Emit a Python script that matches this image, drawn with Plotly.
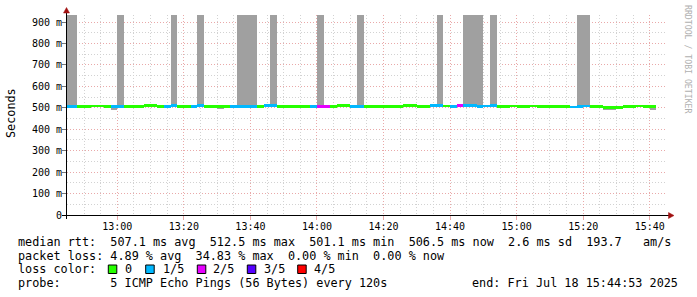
import plotly.graph_objects as go
import pandas as pd

# ---------------- data ----------------
step_start = "2025-07-18 12:44:00"      # first 2-minute step
step_seconds = 120
x_range = ["2025-07-18 12:44:53", "2025-07-18 15:44:53"]

median_ms = [
    507, 507, 507, 505, 509, 509, 506, 505, 507, 507,
    507, 508, 511, 511, 507, 508, 511, 507, 507, 506,
    510, 508, 508, 505, 507, 507, 507, 507, 507, 507,
    510, 510, 507, 507, 507, 505, 505, 506, 508, 505,
    508, 510, 510, 506, 507, 507, 507, 507, 507, 507,
    507, 510, 510, 507, 507, 510, 510, 509, 505, 510,
    510, 512, 508, 509, 510, 507, 507, 509, 507, 507,
    509, 507, 507, 507, 506, 505, 504, 507, 509, 507,
    506, 502, 501, 503, 506, 506, 509, 507, 506,
]
loss_level = [
    1, 1, 0, 0, 0, 0, 0, 1, 1, 0,
    0, 0, 0, 0, 0, 1, 1, 0, 0, 1,
    1, 0, 0, 0, 0, 1, 1, 1, 1, 0,
    1, 1, 0, 0, 0, 0, 0, 1, 2, 2,
    0, 0, 0, 1, 1, 0, 0, 0, 0, 0,
    0, 0, 0, 0, 0, 1, 1, 0, 1, 2,
    1, 1, 1, 1, 1, 0, 0, 0, 0, 0,
    0, 0, 0, 0, 0, 0, 1, 1, 1, 0,
    0, 0, 0, 0, 0, 0, 0, 0, 0,
]
smoke_lo = [
    507, 507, 505, 503, 507, 507, 498, 491, 507, 505,
    505, 506, 509, 509, 505, 506, 511, 505, 505, 504,
    510, 506, 506, 498, 505, 505, 507, 507, 507, 505,
    508, 510, 505, 505, 505, 503, 503, 504, 508, 503,
    506, 508, 508, 504, 507, 505, 505, 505, 505, 505,
    505, 508, 508, 505, 505, 508, 510, 507, 503, 508,
    510, 512, 508, 507, 510, 505, 505, 507, 505, 505,
    507, 505, 505, 505, 504, 503, 502, 507, 509, 505,
    504, 492, 492, 501, 504, 504, 507, 505, 492,
]
smoke_hi = [
    1000, 1000, 509, 507, 511, 511, 508, 507, 1000, 509,
    509, 510, 513, 513, 509, 510, 1000, 509, 509, 508,
    1000, 510, 510, 507, 509, 509, 1000, 1000, 1000, 509,
    512, 1000, 509, 509, 509, 507, 507, 512, 1000, 507,
    510, 512, 512, 508, 1000, 509, 509, 509, 509, 509,
    509, 512, 512, 509, 509, 512, 1000, 511, 507, 512,
    1000, 1000, 1000, 511, 1000, 509, 509, 511, 509, 509,
    511, 513, 509, 512, 508, 507, 506, 1000, 1000, 509,
    508, 505, 505, 505, 508, 508, 511, 509, 508,
]

loss_labels = ["0", "1/5", "2/5", "3/5", "4/5"]
loss_colors = ["#26ff00", "#00b8ff", "#e600ff", "#5500ff", "#ff0000"]

y_tickvals = [0, 100, 200, 300, 400, 500, 600, 700, 800, 900]
y_ticktext = ["0", "100 m", "200 m", "300 m", "400 m", "500 m",
              "600 m", "700 m", "800 m", "900 m"]
y_max = 933

legend_rows = [
    "median rtt:  507.1 ms avg  512.5 ms max  501.1 ms min  506.5 ms now  2.6 ms sd  193.7   am/s",
    "packet loss: 4.89 % avg  34.83 % max  0.00 % min  0.00 % now",
    "loss color:",
    "probe:       5 ICMP Echo Pings (56 Bytes) every 120s",
]
end_text = "end: Fri Jul 18 15:44:53 2025"
watermark = "RRDTOOL / TOBI OETIKER"

# ---------------- figure ----------------
W, H = 697, 297
L, R, T, B = 67, 666, 15, 215
MONO = "DejaVu Sans Mono"


def px(x):
    return (x - L) / (R - L)


def py(y):
    return (B - y) / (B - T)


n = len(median_ms)
centers = (pd.date_range(start=step_start, periods=n, freq=f"{step_seconds}s")
           + pd.Timedelta(seconds=step_seconds / 2))
bar_w = step_seconds * 1000

fig = go.Figure()

# smoke
fig.add_trace(go.Bar(
    x=centers, y=[h - l for h, l in zip(smoke_hi, smoke_lo)], base=smoke_lo,
    width=bar_w, marker=dict(color="#a0a0a0", line=dict(width=0)),
    hoverinfo="skip",
))

# median line coloured by loss
LINE_MS = 13
for lvl, col in enumerate(loss_colors):
    idx = [i for i, v in enumerate(loss_level) if v == lvl]
    if not idx:
        continue
    fig.add_trace(go.Bar(
        x=[centers[i] for i in idx],
        y=[LINE_MS] * len(idx),
        base=[median_ms[i] - LINE_MS / 2 for i in idx],
        width=bar_w, marker=dict(color=col, line=dict(width=0)),
        hoverinfo="skip",
    ))

major_grid = "#e9a9a9"
minor_grid = "#d2d2d2"

fig.update_layout(
    width=W, height=H,
    margin=dict(l=L, r=W - R, t=T, b=H - B),
    paper_bgcolor="white", plot_bgcolor="white",
    showlegend=False, barmode="overlay", bargap=0,
    xaxis=dict(
        type="date", range=x_range, tickformat="%H:%M",
        tick0="2025-07-18 13:00:00", dtick=20 * 60 * 1000,
        showgrid=True, gridcolor=major_grid, griddash="1px,2px", gridwidth=1,
        ticks="outside", ticklen=4, tickcolor=major_grid,
        ticklabelstandoff=-2,
        showline=False, zeroline=False, fixedrange=True,
        tickfont=dict(family=MONO, size=10, color="black"),
        minor=dict(dtick=5 * 60 * 1000, tick0="2025-07-18 13:00:00",
                   showgrid=True, gridcolor=minor_grid, griddash="1px,2px",
                   gridwidth=1),
    ),
    yaxis=dict(
        range=[0, y_max], tickvals=y_tickvals, ticktext=y_ticktext,
        showgrid=True, gridcolor=major_grid, griddash="1px,2px", gridwidth=1,
        ticks="outside", ticklen=4, tickcolor="#777777",
        ticklabelstandoff=-2,
        showline=False, zeroline=False, fixedrange=True,
        tickfont=dict(family=MONO, size=10, color="black"),
        minor=dict(dtick=50, showgrid=True, gridcolor=minor_grid,
                   griddash="1px,2px", gridwidth=1),
    ),
)

shapes = []
# axis lines
shapes.append(dict(type="line", xref="paper", yref="paper",
                   x0=px(62), x1=px(670), y0=py(215.5), y1=py(215.5),
                   line=dict(color="black", width=1)))
shapes.append(dict(type="line", xref="paper", yref="paper",
                   x0=px(66.5), x1=px(66.5), y0=py(219), y1=py(11),
                   line=dict(color="black", width=1)))
# arrows
arrow_col = "#a01010"
shapes.append(dict(type="path", xref="paper", yref="paper",
                   path=f"M {px(63.5)} {py(13)} L {px(69.5)} {py(13)} L {px(66.5)} {py(7.5)} Z",
                   fillcolor=arrow_col, line=dict(color=arrow_col, width=0.5)))
shapes.append(dict(type="path", xref="paper", yref="paper",
                   path=f"M {px(668.5)} {py(212.5)} L {px(668.5)} {py(218.5)} L {px(674)} {py(215.5)} Z",
                   fillcolor=arrow_col, line=dict(color=arrow_col, width=0.5)))

annotations = []
FS = 11.8
row_y = [241.7, 255.7, 269.3, 283.3]
for text, yy in zip(legend_rows, row_y):
    annotations.append(dict(
        x=px(16), y=py(yy), xref="paper", yref="paper",
        xanchor="left", yanchor="middle", showarrow=False,
        text=text.replace(" ", "\u00a0"),
        font=dict(family=MONO, size=FS, color="black"),
    ))
annotations.append(dict(
    x=px(680), y=py(row_y[3]), xref="paper", yref="paper",
    xanchor="right", yanchor="middle", showarrow=False,
    text=end_text.replace(" ", "\u00a0"),
    font=dict(family=MONO, size=FS, color="black"),
))

# loss colour swatches
sq_x = [108.3, 145.7, 197.3, 247.3, 297.7]
lbl_x = [123.3, 160.7, 211.0, 261.7, 312.3]
for sx, lx, lab, col in zip(sq_x, lbl_x, loss_labels, loss_colors):
    shapes.append(dict(type="rect", xref="paper", yref="paper",
                       x0=px(sx), x1=px(sx + 8.5), y0=py(273.5), y1=py(265),
                       fillcolor=col, line=dict(color="black", width=1)))
    annotations.append(dict(
        x=px(lx), y=py(row_y[2]), xref="paper", yref="paper",
        xanchor="left", yanchor="middle", showarrow=False, text=lab,
        font=dict(family=MONO, size=FS, color="black"),
    ))

# y title
annotations.append(dict(
    x=px(11), y=py(113), xref="paper", yref="paper",
    xanchor="center", yanchor="middle", showarrow=False, text="Seconds",
    textangle=-90, font=dict(family=MONO, size=FS, color="black"),
))
# watermark
annotations.append(dict(
    x=px(688), y=py(59), xref="paper", yref="paper",
    xanchor="center", yanchor="middle", showarrow=False, text=watermark.replace(" ", "\u00a0"),
    textangle=90, font=dict(family=MONO, size=8.2, color="#b0b0b0"),
))

fig.update_layout(shapes=shapes, annotations=annotations)
fig.write_html("out.html")
